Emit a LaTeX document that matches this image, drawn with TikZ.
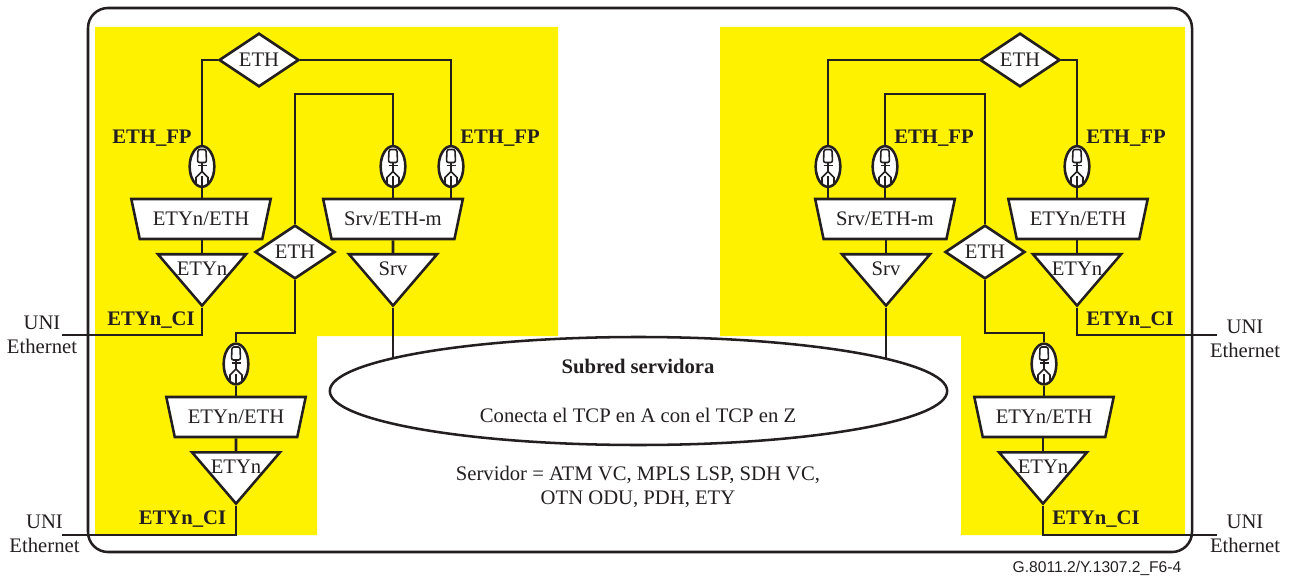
\documentclass[tikz,border=0pt]{standalone}
\usepackage{fontspec}
\setmainfont{Liberation Serif}
\newfontfamily\tagfont{Liberation Sans}
\usetikzlibrary{calc,positioning,shapes.geometric}
\definecolor{ink}{RGB}{35,31,32}
\definecolor{zone}{RGB}{255,242,0}
\tikzset{
  wire/.style={draw=ink,line width=1.9pt},
  txt/.style={font=\fontsize{15.5}{18}\selectfont,text=ink,inner sep=0pt,align=center},
  boldtxt/.style={txt,font=\fontsize{15.5}{18}\selectfont\bfseries},
  % transport entities
  ethdia/.style={diamond,draw=ink,fill=white,line width=2pt,inner sep=0pt,
    minimum width=60pt,minimum height=40pt,font=\fontsize{15.5}{18}\selectfont,text=ink},
  adapt/.style={trapezium,trapezium left angle=64,trapezium right angle=64,
    trapezium stretches,shape border rotate=180,draw=ink,fill=white,line width=1.9pt,
    inner sep=0pt,minimum width=105pt,minimum height=30pt,text depth=0pt,
    font=\fontsize{15.5}{18}\selectfont,text=ink},
  term/.style={isosceles triangle,isosceles triangle apex angle=81,
    isosceles triangle stretches,shape border rotate=-90,draw=ink,fill=white,
    line width=1.9pt,inner sep=0pt,minimum width=66pt,minimum height=38.5pt,anchor=lower side},
  fpoint/.style={ellipse,draw=ink,fill=white,line width=1.9pt,inner sep=0pt,
    minimum width=18.5pt,minimum height=30.5pt,
    path picture={
      \begin{scope}[shift={(path picture bounding box.center)},draw=ink,line width=1.2pt]
        \draw[rounded corners=1.5pt] (-4.5,-4) -- (-4,-17) -- (4,-17) -- (4.5,-4) -- cycle;
        \draw[line width=1.9pt] (0,-4) -- (0,5);
        \draw (-4.5,-1) -- (4.5,-1);
        \draw (-6,19) -- (-6,11) -- (0,5) -- (6,11) -- (6,19);
        \draw (0,10) -- (0,20);
      \end{scope}}},
  subnet/.style={ellipse,draw=ink,fill=white,line width=1.9pt,inner sep=0pt,
    minimum width=463pt,minimum height=81pt}
}
\begin{document}
\begin{tikzpicture}[x=0.75pt,y=-0.75pt]
  \useasboundingbox (0,0) rectangle (1291,577);
  % yellow zones and outer frame
  \fill[zone] (95,27) -- (558,27) -- (558,336) -- (317,336) -- (317,535) -- (95,535) -- cycle;
  \fill[zone] (720,27) -- (1185,27) -- (1185,535) -- (961,535) -- (961,336) -- (720,336) -- cycle;
  \draw[wire,rounded corners=15pt] (88,8) rectangle (1192,552);

  \node[subnet] (net) at (638.5,391) {};
  \node[boldtxt] (nettitle) at (638,366) {Subred servidora};
  \node[txt] (nettext) at (638,415) {Conecta el TCP en A con el TCP en Z};
  \node[txt] (srvtext) at (638,487) {Servidor = ATM VC, MPLS LSP, SDH VC,\\ OTN ODU, PDH, ETY};

  % left side
  \begin{scope}
    \node[ethdia] (ethA) at (259,60) {ETH};
    \node[ethdia] (ethB) at (295,252) {ETH};
    \node[fpoint] (fpA) at (202,166.5) {};
    \node[fpoint] (fpB) at (393,166.5) {};
    \node[fpoint] (fpC) at (451,166.5) {};
    \node[fpoint] (fpD) at (236,364) {};
    \node[adapt] (adA) at (201,219) {ETYn/ETH};
    \node[adapt] (adB) at (393,219) {Srv/ETH-m};
    \node[adapt] (adC) at (236,417) {ETYn/ETH};
    \node[term] (trA) at (202,253) {};
    \node[term] (trB) at (393,253) {};
    \node[term] (trC) at (236,451) {};
    \node[txt] (trAt) at (202,269) {ETYn};
    \node[txt] (trBt) at (393,269) {Srv};
    \node[txt] (trCt) at (236,467) {ETYn};
    \coordinate (kneeA) at (393,94);
    \coordinate (kneeB) at (236,333);
    \coordinate (uniA) at (62,335);
    \coordinate (uniB) at (62,535);
    \draw[wire] (ethA.west) -| (fpA.north);
    \draw[wire] (ethA.east) -| (fpC.north);
    \draw[wire] (ethB.north) |- (kneeA) -- (fpB.north);
    \draw[wire] (ethB.south) |- (kneeB) -- (fpD.north);
    \draw[wire] (fpA.south) -- (fpA.south |- adA.north);
    \draw[wire] (fpB.south) -- (fpB.south |- adB.north);
    \draw[wire] (fpC.south) -- (fpC.south |- adB.north);
    \draw[wire] (fpD.south) -- (fpD.south |- adC.north);
    \draw[wire] (adA.south -| trA.apex) -- (trA.lower side);
    \draw[wire] (adB.south) -- (trB.lower side);
    \draw[wire] (adC.south) -- (trC.lower side);
    \draw[wire] (trA.apex) |- (uniA);
    \draw[wire] (trC.apex) |- (uniB);
    \draw[wire] (trB.apex) -- (trB.apex |- net.172.3);
    \node[boldtxt] (fpAt) at (152,138.5) {ETH\_FP};
    \node[boldtxt] (fpCt) at (500,138.5) {ETH\_FP};
    \node[boldtxt] (ciA) at (151,320) {ETYn\_CI};
    \node[boldtxt] (ciB) at (182.5,519) {ETYn\_CI};
    \node[txt] (uniAt) at (42,334.5) {UNI\\ Ethernet};
    \node[txt] (uniBt) at (44.5,533.5) {UNI\\ Ethernet};
  \end{scope}

  % right side
  \begin{scope}
    \node[ethdia] (ethC) at (1020,60) {ETH};
    \node[ethdia] (ethD) at (985,252) {ETH};
    \node[fpoint] (fpE) at (828,166.5) {};
    \node[fpoint] (fpF) at (885,166.5) {};
    \node[fpoint] (fpG) at (1077,166.5) {};
    \node[fpoint] (fpH) at (1044,364) {};
    \node[adapt] (adD) at (885,219) {Srv/ETH-m};
    \node[adapt] (adE) at (1078,219) {ETYn/ETH};
    \node[adapt] (adF) at (1044,417) {ETYn/ETH};
    \node[term] (trD) at (886,253) {};
    \node[term] (trE) at (1077,253) {};
    \node[term] (trF) at (1043,451) {};
    \node[txt] (trDt) at (886,269) {Srv};
    \node[txt] (trEt) at (1077,269) {ETYn};
    \node[txt] (trFt) at (1043,467) {ETYn};
    \coordinate (kneeC) at (885,94);
    \coordinate (kneeD) at (1044,333);
    \coordinate (uniC) at (1217,335);
    \coordinate (uniD) at (1217,535);
    \draw[wire] (ethC.west) -| (fpE.north);
    \draw[wire] (ethC.east) -| (fpG.north);
    \draw[wire] (ethD.north) |- (kneeC) -- (fpF.north);
    \draw[wire] (ethD.south) |- (kneeD) -- (fpH.north);
    \draw[wire] (fpE.south) -- (fpE.south |- adD.north);
    \draw[wire] (fpF.south) -- (fpF.south |- adD.north);
    \draw[wire] (fpG.south) -- (fpG.south |- adE.north);
    \draw[wire] (fpH.south) -- (fpH.south |- adF.north);
    \draw[wire] (adD.south -| trD.apex) -- (trD.lower side);
    \draw[wire] (adE.south -| trE.apex) -- (trE.lower side);
    \draw[wire] (adF.south -| trF.apex) -- (trF.lower side);
    \draw[wire] (trE.apex) |- (uniC);
    \draw[wire] (trF.apex) |- (uniD);
    \draw[wire] (trD.apex) -- (trD.apex |- net.7.6);
    \node[boldtxt] (fpFt) at (934,138.5) {ETH\_FP};
    \node[boldtxt] (fpGt) at (1126,138.5) {ETH\_FP};
    \node[boldtxt] (ciC) at (1130,320) {ETYn\_CI};
    \node[boldtxt] (ciD) at (1096,519) {ETYn\_CI};
    \node[txt] (uniCt) at (1245,339) {UNI\\ Ethernet};
    \node[txt] (uniDt) at (1245,533.5) {UNI\\ Ethernet};
  \end{scope}

  \node[txt,font=\fontsize{11.7}{13}\selectfont\tagfont] (tag) at (1097,568) {G.8011.2/Y.1307.2\_F6-4};
\end{tikzpicture}
\end{document}
